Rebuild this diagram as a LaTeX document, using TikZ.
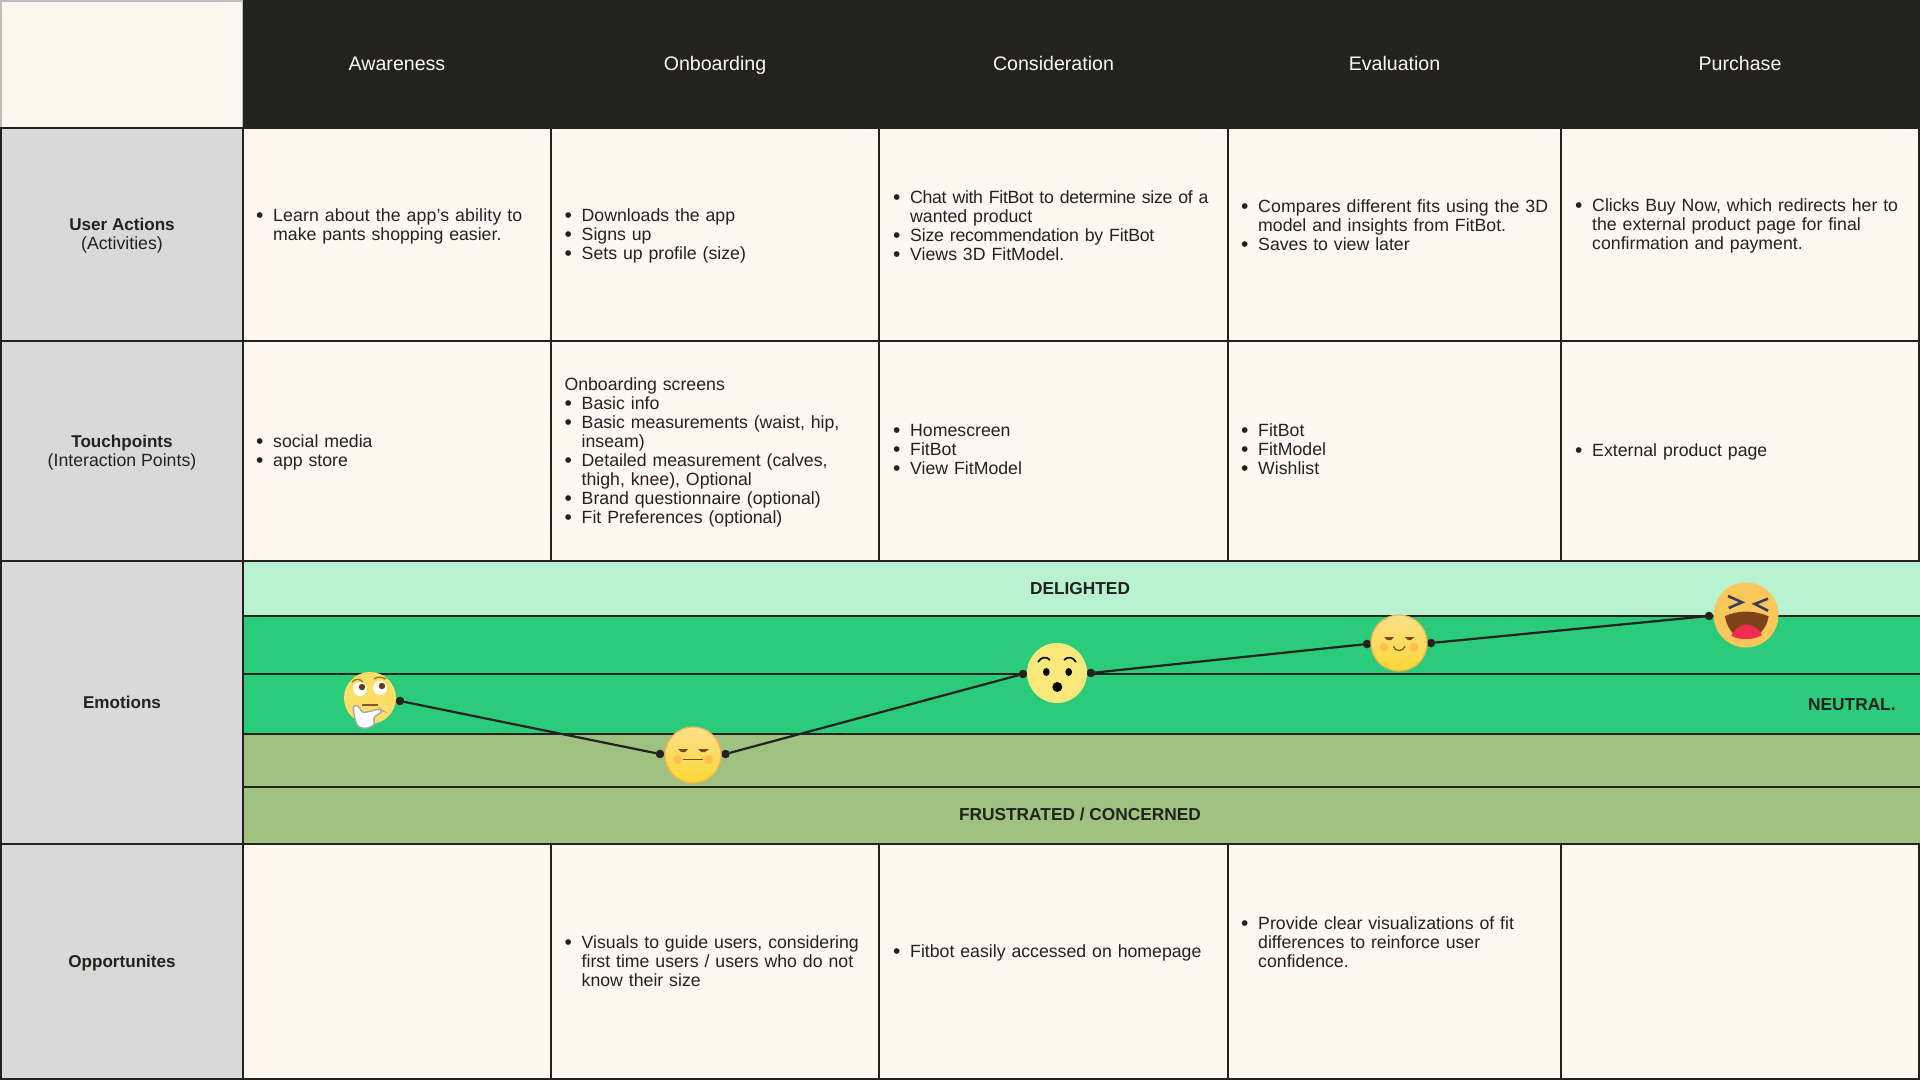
\documentclass[tikz,border=0pt]{standalone}
\usepackage{fontspec}
\setmainfont{Liberation Sans}
\definecolor{ink}{HTML}{22221F}
\definecolor{cream}{HTML}{FFF8F1}
\definecolor{greyc}{HTML}{D9D9D9}
\definecolor{mint}{HTML}{B9F2D1}
\definecolor{greenb}{HTML}{2BCB7C}
\definecolor{olive}{HTML}{A0C280}
\definecolor{browna}{HTML}{7A4A1E}
\definecolor{cheek}{HTML}{FFB84D}
\tikzset{
  cellb/.style={draw=ink,line width=1.4pt,inner sep=0pt,outer sep=0pt},
  bodyc/.style={cellb,fill=cream},
  headc/.style={cellb,fill=greyc},
  bandm/.style={cellb,fill=mint},
  bandg/.style={cellb,fill=greenb},
  bando/.style={cellb,fill=olive},
  darkc/.style={inner sep=0pt,outer sep=0pt,fill=ink},
  txt/.style={text=ink,inner sep=0pt,outer sep=0pt,anchor=west,text width=175pt,align=left,font=\fontsize{8.85}{9.5}\selectfont},
  hdr/.style={text=cream,inner sep=0pt,anchor=base,font=\fontsize{9.8}{11}\selectfont},
  lbl/.style={text=ink,inner sep=0pt,align=center,font=\fontsize{8.85}{9.5}\selectfont},
  bandt/.style={text=ink,inner sep=0pt,anchor=base,font=\fontsize{8.65}{10}\selectfont\bfseries},
  dotn/.style={circle,fill=ink,inner sep=0pt,outer sep=0pt,minimum size=4.3pt},
  link/.style={draw=ink,line width=1.1pt},
}
\newcommand{\boxn}[6]{\pgfmathsetmacro\myw{(#4-#2)*0.5}\pgfmathsetmacro\myh{(#5-#3)*0.5}%
  \node[#6,minimum width=\myw pt,minimum height=\myh pt,anchor=north west] (#1) at (#2,#3) {};}
\newcommand{\itm}[1]{{\hangindent=8.6pt\hangafter=1\noindent\makebox[8.6pt][l]{\raisebox{-0.5pt}{\fontsize{10.5}{9.5}\selectfont •}}#1\par}}
\newcommand{\lsp}[2]{{\addfontfeature{LetterSpace=#1}#2}}
\newcommand{\lblb}[1]{{\fontsize{8.55}{9.5}\selectfont\bfseries #1}}
\begin{document}
\begin{tikzpicture}[x=0.5pt,y=-0.5pt]
\useasboundingbox (0,0) rectangle (1920,1080);
% top row
\boxn{corner}{1}{1}{243}{128}{bodyc,line width=.6pt,draw=ink!30}
\boxn{headbar}{243}{0}{1920}{128}{darkc}
\node[hdr] (h1) at (397,70.5) {Awareness};
\node[hdr] (h2) at (715,70.5) {Onboarding};
\node[hdr] (h3) at (1053.5,70.5) {Consideration};
\node[hdr] (h4) at (1394.5,70.5) {Evaluation};
\node[hdr] (h5) at (1740,70.5) {Purchase};
% left column
\boxn{l1}{1}{128}{243}{341}{headc}
\boxn{l2}{1}{341}{243}{561}{headc}
\boxn{l3}{1}{561}{243}{844}{headc}
\boxn{l4}{1}{844}{243}{1079}{headc}
% body rows
\boxn{a1}{243}{128}{551}{341}{bodyc}
\boxn{a2}{551}{128}{879}{341}{bodyc}
\boxn{a3}{879}{128}{1228}{341}{bodyc}
\boxn{a4}{1228}{128}{1561}{341}{bodyc}
\boxn{a5}{1561}{128}{1919}{341}{bodyc}
\boxn{b1}{243}{341}{551}{561}{bodyc}
\boxn{b2}{551}{341}{879}{561}{bodyc}
\boxn{b3}{879}{341}{1228}{561}{bodyc}
\boxn{b4}{1228}{341}{1561}{561}{bodyc}
\boxn{b5}{1561}{341}{1919}{561}{bodyc}
\boxn{c1}{243}{844}{551}{1079}{bodyc}
\boxn{c2}{551}{844}{879}{1079}{bodyc}
\boxn{c3}{879}{844}{1228}{1079}{bodyc}
\boxn{c4}{1228}{844}{1561}{1079}{bodyc}
\boxn{c5}{1561}{844}{1919}{1079}{bodyc}
% emotion bands
\boxn{e1}{243}{561}{1921}{616}{bandm}
\boxn{e2}{243}{616}{1921}{674}{bandg}
\boxn{e3}{243}{674}{1921}{734}{bandg}
\boxn{e4}{243}{734}{1921}{787}{bando}
\boxn{e5}{243}{787}{1921}{844}{bando}
\draw[ink,line width=1.4pt] (243,844) -- (1920,844);
% labels
\node[lbl] (lt1) at (122,236) {\lblb{User Actions}\\(Activities)};
\node[lbl] (lt2) at (122,453) {\lblb{Touchpoints}\\(Interaction Points)};
\node[lbl] (lt3) at (122,702.5) {\lblb{Emotions}};
\node[lbl] (lt4) at (122,963) {\lblb{Opportunites}};
% row 1
\node[txt] (t11) at (256,226) {\itm{\lsp{0.9}{Learn about the app\symbol{39}s ability to}\newline make pants shopping easier.}};
\node[txt] (t12) at (564.5,235.5) {\itm{Downloads the app}\itm{Signs up}\itm{Sets up profile (size)}};
\node[txt] (t13) at (893,226) {\itm{\lsp{-1.8}{Chat with FitBot to determine size of a}\newline wanted product}\itm{\lsp{-1.2}{Size recommendation by FitBot}}\itm{Views 3D FitModel.}};
\node[txt] (t14) at (1241,225.5) {\itm{\lsp{0.7}{Compares different fits using the 3D}\newline model and insights from FitBot.}\itm{Saves to view later}};
\node[txt] (t15) at (1575,225.5) {\itm{Clicks Buy Now, which redirects her to\newline the external product page for final\newline confirmation and payment.}};
% row 2
\node[txt] (t21) at (256,452) {\itm{social media}\itm{app store}};
\node[txt] (t22) at (564.5,452) {Onboarding screens\par\itm{Basic info}\itm{Basic measurements (waist, hip,\newline inseam)}\itm{Detailed measurement (calves,\newline thigh, knee), Optional}\itm{Brand questionnaire (optional)}\itm{Fit Preferences (optional)}};
\node[txt] (t23) at (893,450) {\itm{Homescreen}\itm{FitBot}\itm{View FitModel}};
\node[txt] (t24) at (1241,450) {\itm{FitBot}\itm{FitModel}\itm{Wishlist}};
\node[txt] (t25) at (1575,452) {\itm{External product page}};
% row 3
\node[txt] (t32) at (564.5,961.5) {\itm{Visuals to guide users, considering\newline first time users / users who do not\newline know their size}};
\node[txt] (t33) at (893,953) {\itm{Fitbot easily accessed on homepage}};
\node[txt] (t34) at (1241,942.5) {\itm{Provide clear visualizations of fit\newline differences to reinforce user\newline confidence.}};
% band labels
\node[bandt] (dl) at (1080,594.5) {DELIGHTED};
\node[bandt,anchor=base east] (nt) at (1896,710.5) {NEUTRAL.};
\node[bandt] (fr) at (1080,820.5) {FRUSTRATED / CONCERNED};
% connectors
\node[dotn] (d1) at (400,701) {};
\node[dotn] (d2) at (660,754) {};
\node[dotn] (d3) at (725.5,754) {};
\node[dotn] (d4) at (1023,674) {};
\node[dotn] (d5) at (1091,673) {};
\node[dotn] (d6) at (1367,644) {};
\node[dotn] (d7) at (1431,643) {};
\node[dotn] (d8) at (1709,616) {};
\draw[link] (d1) -- (d2);
\draw[link] (d3) -- (d4);
\draw[link] (d5) -- (d6);
\draw[link] (d7) -- (d8);
% thinking face
\begin{scope}[shift={(370,698)}]
\fill[fill={rgb,255:red,255;green,221;blue,103}] (0,0) circle (26);
\fill[white] (-10,-9) circle (7) (10,-10) circle (7);
\fill[browna!80!black] (-8,-11) circle (3.2) (12,-12) circle (3.2);
\draw[line width=.7pt,draw={rgb,255:red,160;green,120;blue,50}] (-18,-16) .. controls (-14,-20) and (-10,-19) .. (-7,-16);
\draw[line width=.7pt,draw={rgb,255:red,160;green,120;blue,50}] (4,-19) .. controls (8,-22) and (12,-21) .. (16,-19);
\draw[line width=.9pt,draw={rgb,255:red,122;green,91;blue,44}] (-8,7) -- (8,7);
\draw[fill=white,draw=gray!70,line width=.7pt,rounded corners=1.5pt] (-17,7) -- (-11,8) -- (-8,15) -- (10,11) -- (13,13) -- (3,20) -- (5,27) -- (-5,31) -- (-13,28) -- (-16,17) -- cycle;
\end{scope}
% expressionless face
\begin{scope}[shift={(693,755)}]
\shade[top color={rgb,255:red,250;green,224;blue,140},bottom color={rgb,255:red,253;green,216;blue,53}] (0,0) circle (28);
\draw[draw={rgb,255:red,248;green,180;blue,75},line width=.6pt] (0,0) circle (28);
\fill[cheek,opacity=.75] (-15.5,4.5) circle (4.5) (15.5,4.5) circle (4.5);
\fill[browna] (-15,-6) -- (-5,-6) -- (-8,-3) -- (-12,-3) -- cycle;
\fill[browna] (5,-6) -- (16,-6) -- (12,-3) -- (8,-3) -- cycle;
\draw[browna,line width=.6pt] (-10,4.7) -- (10,4.7);
\end{scope}
% surprised face
\begin{scope}[shift={(1057,673)}]
\fill[fill={rgb,255:red,251;green,232;blue,122}] (0,0) circle (30);
\draw[black,line width=.8pt] (-19,-11) .. controls (-16,-16) and (-11,-17) .. (-7,-13);
\draw[black,line width=.8pt] (7,-13) .. controls (11,-17) and (16,-16) .. (19,-11);
\fill[black] (-10.7,-1) ellipse (3.3 and 4) (11.7,-1) ellipse (3.3 and 4);
\fill[black] (0.3,14) circle (5);
\end{scope}
% content face
\begin{scope}[shift={(1399,643)}]
\shade[top color={rgb,255:red,250;green,224;blue,140},bottom color={rgb,255:red,253;green,216;blue,53}] (0,0) circle (28);
\draw[draw={rgb,255:red,248;green,180;blue,75},line width=.6pt] (0,0) circle (28);
\fill[cheek,opacity=.75] (-15,4.3) circle (4.5) (14.7,4.3) circle (4.5);
\fill[browna] (-15,-6) -- (-5,-6) -- (-8,-3) -- (-12,-3) -- cycle;
\fill[browna] (5.5,-6) -- (15.5,-6) -- (12,-3) -- (9,-3) -- cycle;
\draw[browna,line width=.6pt] (-5.7,3.3) .. controls (-4,9) and (4,9) .. (6,3.3);
\end{scope}
% laughing face
\begin{scope}[shift={(1746,615)}]
\fill[fill={rgb,255:red,251;green,199;blue,91}] (0,0) circle (32.5);
\draw[line width=1.3pt,draw={rgb,255:red,58;green,63;blue,92}] (-18,-19) -- (-4,-12.7) -- (-17.3,-7);
\draw[line width=1.3pt,draw={rgb,255:red,58;green,63;blue,92}] (22,-16.3) -- (8.7,-11) -- (22,-4.3);
\fill[fill={rgb,255:red,126;green,67;blue,27}] (-21.3,1.3) .. controls (-8,-5) and (8,-5) .. (22.7,1.3) .. controls (20,16) and (10,24) .. (0,24) .. controls (-10,24) and (-18,16) .. (-21.3,1.3) -- cycle;
\fill[fill={rgb,255:red,242;green,43;blue,80}] (-14.7,20.7) .. controls (-10,12) and (-4,9.7) .. (0,9.7) .. controls (6,9.7) and (12,13) .. (16,20) .. controls (10,23.5) and (5,24) .. (0,24) .. controls (-6,24) and (-10,23.5) .. (-14.7,20.7) -- cycle;
\end{scope}
\end{tikzpicture}
\end{document}
